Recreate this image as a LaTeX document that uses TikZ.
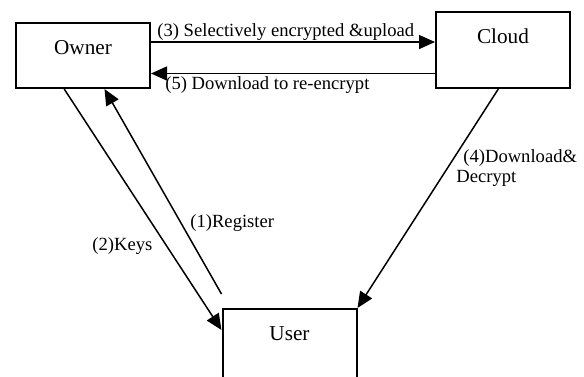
\documentclass[tikz,border=0pt]{standalone}
\usepackage{fontspec}
\setmainfont{Liberation Serif}
\usetikzlibrary{arrows.meta}

\begin{document}
\begin{tikzpicture}[x=0.5pt,y=-0.5pt,
    party/.style={draw, line width=1pt, minimum width=67pt, inner sep=0pt, text height=15.5pt, font=\fontsize{10.6}{12}\selectfont},
    msg/.style={inner sep=0pt, font=\fontsize{9.3}{10}\selectfont},
    flow/.style={line width=0.75pt, -{Triangle[length=8pt,width=7pt]}}]
    \useasboundingbox (0,0) rectangle (584,376);
    \node[party, text depth=17pt, anchor=north west] (owner) at (15,22) {Owner};
    \node[party, text depth=22.5pt, anchor=north west] (cloud) at (435,11) {Cloud};
    \node[party, text depth=30pt, anchor=north west] (user) at (221.5,308) {User};
    \draw[flow] ([yshift=6.75pt]owner.east) -- ([yshift=6.75pt]owner.east -| cloud.west); % upload
    \draw[flow] ([yshift=-9pt]owner.east -| cloud.west) -- ([yshift=-9pt]owner.east); % re-encrypt
    \draw[flow] ([yshift=7pt]user.north west) -- ([xshift=10.75pt]owner.south); % register
    \draw[flow] ([xshift=-9.4pt]owner.south) -- ([yshift=-11pt]user.north west); % keys
    \draw[flow] ([xshift=-2.35pt]cloud.south) -- (user.north east); % decrypt
    \node[msg, anchor=base west] (upload) at (157,36.5) {(3) Selectively encrypted \&upload};
    \node[msg, anchor=base west] (reenc) at (165,89) {(5) Download to re-encrypt};
    \node[msg, anchor=base west] (register) at (190,227) {(1)Register};
    \node[msg, anchor=base west] (keys) at (92,250) {(2)Keys};
    \node[msg, anchor=north west, align=left] (decrypt) at (456,149) {\hspace*{3.5pt}(4)Download\&\\Decrypt};
\end{tikzpicture}
\end{document}
